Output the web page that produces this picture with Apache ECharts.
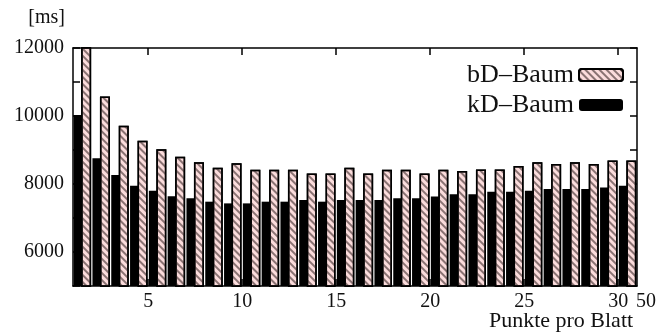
<!DOCTYPE html>
<html>
<head>
<meta charset="utf-8">
<script src="https://cdn.jsdelivr.net/npm/echarts@6/dist/echarts.min.js"></script>
<style>
html,body{margin:0;padding:0;background:#fff;}
#chart{width:658px;height:335px;}
</style>
</head>
<body>
<div id="chart"></div>
<script>
const categories = ['1','2','3','4','5','6','7','8','9','10','11','12','13','14','15','16','17','18','19','20','21','22','23','24','25','26','27','28','29','30'];
const bdBaum = [12600, 10570, 9710, 9270, 9020, 8800, 8640, 8480, 8610, 8420, 8420, 8420, 8310, 8310, 8480, 8310, 8420, 8420, 8310, 8420, 8380, 8430, 8430, 8530, 8640, 8590, 8640, 8590, 8690, 8690];
const kdBaum = [10030, 8755, 8265, 7950, 7800, 7640, 7580, 7480, 7430, 7430, 7480, 7480, 7530, 7480, 7530, 7530, 7530, 7580, 7580, 7630, 7700, 7700, 7770, 7770, 7800, 7850, 7850, 7850, 7900, 7950];
const xTickValues = [5, 10, 15, 20, 25, 30, 31];
const xTickLabels = ['5', '10', '15', '20', '25', '30', '50'];
const yTickValues = [6000, 8000, 10000, 12000];

const FONT = 'Liberation Serif';
const chart = echarts.init(document.getElementById('chart'), null, {renderer: 'canvas'});
const lineStyle = {color: '#000', width: 1.5};

chart.setOption({
  animation: false,
  backgroundColor: '#fff',
  grid: {left: 73, right: 21, top: 48, bottom: 49, containLabel: false, outerBoundsMode: 'none'},
  legend: {
    data: ['bD–Baum', 'kD–Baum'],
    orient: 'vertical',
    align: 'right',
    right: 29,
    top: 57,
    itemWidth: 44,
    itemHeight: 12,
    itemGap: 4,
    textStyle: {fontFamily: FONT, fontSize: 26, color: '#111'}
  },
  xAxis: [
    {
      type: 'category', data: categories, position: 'bottom',
      axisLine: {show: false}, axisTick: {show: false}, axisLabel: {show: false}, splitLine: {show: false}
    },
    {
      type: 'value', min: 1, max: 31, position: 'bottom',
      name: 'Punkte pro Blatt', nameLocation: 'middle', nameGap: 24, nameMoveOverlap: false,
      nameTextStyle: {fontFamily: FONT, fontSize: 22, color: '#111', verticalAlign: 'top', padding: [0, 0, 0, 412]},
      axisLine: {show: true, onZero: false, lineStyle: lineStyle},
      axisTick: {show: true, inside: true, length: 7, customValues: xTickValues.slice(0, 6), lineStyle: lineStyle},
      axisLabel: {
        show: true, margin: 6, customValues: xTickValues,
        fontFamily: FONT, fontSize: 20, color: '#111',
        formatter: function (v) {
          const i = xTickValues.indexOf(v);
          if (i < 0) return '';
          return v === 31 ? '{r|' + xTickLabels[i] + '}' : xTickLabels[i];
        },
        rich: {r: {fontFamily: FONT, fontSize: 20, color: '#111', padding: [0, 0, 0, 18]}}
      },
      splitLine: {show: false}
    },
    {
      type: 'value', min: 1, max: 31, position: 'top',
      axisLine: {show: true, onZero: false, lineStyle: lineStyle},
      axisTick: {show: true, inside: true, length: 7, customValues: xTickValues.slice(0, 6), lineStyle: lineStyle},
      axisLabel: {show: false}, splitLine: {show: false}
    }
  ],
  yAxis: [
    {
      type: 'value', min: 5000, max: 12000, interval: 1000, position: 'left',
      name: '[ms]', nameLocation: 'end', nameGap: 20,
      nameTextStyle: {fontFamily: FONT, fontSize: 20, color: '#111', align: 'right', verticalAlign: 'bottom', padding: [0, 8, 0, 0]},
      axisLine: {show: true, onZero: false, lineStyle: lineStyle},
      axisTick: {show: true, inside: true, length: 7, lineStyle: lineStyle},
      axisLabel: {
        margin: 9, fontFamily: FONT, fontSize: 20, color: '#111',
        formatter: function (v) { return yTickValues.indexOf(v) >= 0 ? String(v) : ''; }
      },
      splitLine: {show: false}
    },
    {
      type: 'value', min: 5000, max: 12000, interval: 1000, position: 'right',
      axisLine: {show: true, onZero: false, lineStyle: lineStyle},
      axisTick: {show: true, inside: true, length: 7, lineStyle: lineStyle},
      axisLabel: {show: false}, splitLine: {show: false}
    }
  ],
  series: [
    {
      name: 'kD–Baum', type: 'bar', xAxisIndex: 0, yAxisIndex: 0,
      data: kdBaum, barWidth: 10, barGap: '-25%', clip: true,
      itemStyle: {color: '#000'}
    },
    {
      name: 'bD–Baum', type: 'bar', xAxisIndex: 0, yAxisIndex: 0,
      data: bdBaum, barWidth: 10, barGap: '-25%', clip: true,
      itemStyle: {
        color: '#fbdcdc', borderColor: '#000', borderWidth: 1.5,
        decal: {symbol: 'rect', symbolSize: 1, dashArrayX: [1, 0], dashArrayY: [1.5, 3], rotation: Math.PI / 4, color: 'rgba(90,70,70,0.7)'}
      }
    }
  ]
});
</script>
</body>
</html>
